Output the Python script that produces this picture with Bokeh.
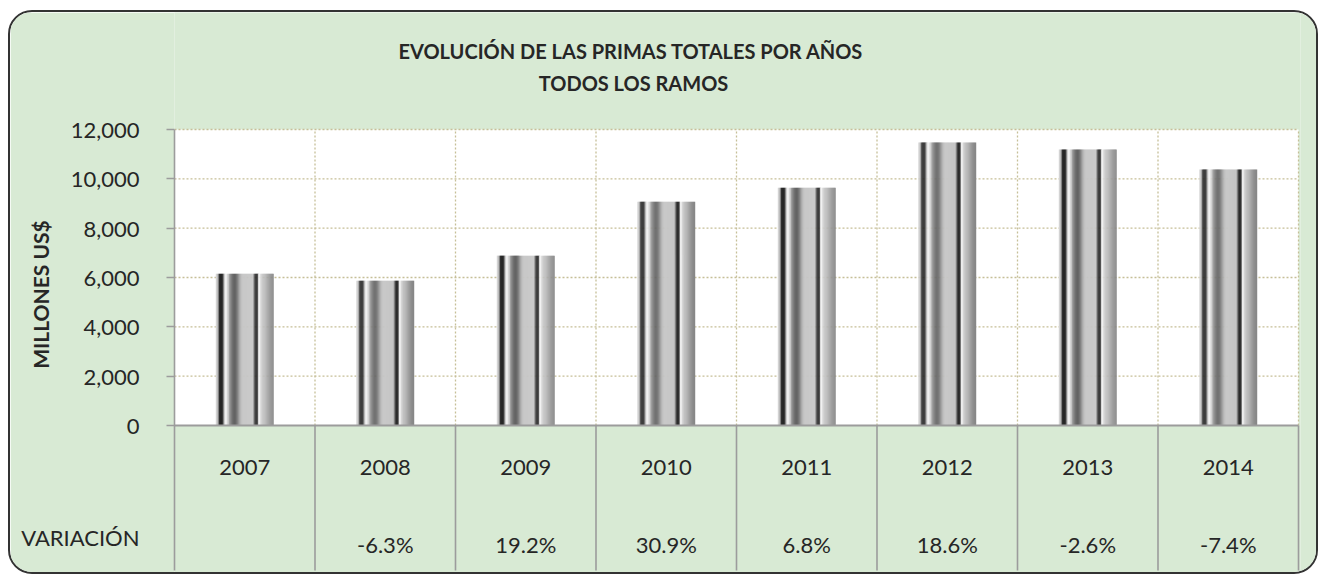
import math
from bokeh.plotting import figure
from bokeh.models import Range1d, FixedTicker, NumeralTickFormatter
from bokeh.core.properties import value
from bokeh.embed import file_html
from bokeh.resources import INLINE

# ---------------- data ----------------
years = ["2007", "2008", "2009", "2010", "2011", "2012", "2013", "2014"]
primas = [6154, 5870, 6885, 9075, 9643, 11469, 11185, 10374]
variacion = ["", "-6.3%", "19.2%", "30.9%", "6.8%", "18.6%", "-2.6%", "-7.4%"]
y_ticks = [0, 2000, 4000, 6000, 8000, 10000, 12000]
title_lines = ["EVOLUCIÓN DE LAS PRIMAS TOTALES  POR AÑOS", "TODOS LOS RAMOS"]
y_label = "MILLONES US$"
row_label = "VARIACIÓN"

# ---------------- style ----------------
GREEN = "#D8EAD4"
TEXT = "#262626"
AXIS = "#9C9C9C"
GRID = "#C6BF98"
FONT = "Lato"
# grey levels across one bar (left -> right), imitating the metallic fill
stripe_levels = [215, 200, 150, 50, 40, 38, 45, 120, 200, 240, 238, 215, 200, 160,
                 140, 125, 112, 104, 100, 104, 115, 130, 150, 168, 182, 192, 197,
                 198, 198, 198, 198, 198, 198, 198, 198, 198, 198, 150, 80, 45, 40,
                 70, 235, 240, 215, 205, 195, 190, 185, 178, 170, 162, 155, 148, 142,
                 138, 135]

# ---------------- layout (page pixels) ----------------
W, H = 1310, 564
ORIGIN_X, ORIGIN_Y = 10, 12
FRAME_L, FRAME_R = 174, 1300
FRAME_T, FRAME_B = ORIGIN_Y, ORIGIN_Y + H
ZERO_Y, TOP_Y = 425, 129
TABLE_B = 570
ROW_Y = 537
YMAX = y_ticks[-1]
n = len(years)
cat_px = (1298 - 174) / n
k = (ZERO_Y - TOP_Y) / YMAX


def dx(px):
    return (px - FRAME_L) / cat_px


def dy(py):
    return (ZERO_Y - py) / k


p = figure(width=W, height=H, output_backend="svg", toolbar_location=None,
           x_range=Range1d(0, dx(FRAME_R)), y_range=Range1d(dy(FRAME_B), dy(FRAME_T)),
           x_axis_type=None, min_border_left=FRAME_L - ORIGIN_X,
           min_border_right=ORIGIN_X + W - FRAME_R, min_border_top=0, min_border_bottom=0,
           margin=(10, 0, 0, 8),
           styles={"border": "2px solid #333333", "border-radius": "24px", "overflow": "hidden"})
p.background_fill_color = GREEN
p.border_fill_color = GREEN
p.outline_line_color = None
p.grid.visible = False

# white plotting area
p.quad(left=0, right=n, bottom=0, top=YMAX, fill_color="white", line_color=None, level="image")

# dotted grid
gy = [t for t in y_ticks if t > 0]
p.segment(x0=[0] * len(gy), x1=[n] * len(gy), y0=gy, y1=gy,
          line_color=GRID, line_width=1.3, line_dash="2 2")
bx = list(range(1, n + 1))
p.segment(x0=bx, x1=bx, y0=[0] * n, y1=[YMAX] * n,
          line_color=GRID, line_width=1.3, line_dash="2 2")

# striped bars
bar_w = 0.41
ns = len(stripe_levels)
sw = bar_w / ns
xs, tops, cols = [], [], []
for i, v in enumerate(primas):
    for j, g in enumerate(stripe_levels):
        xs.append(i + 0.5 - bar_w / 2 + (j + 0.5) * sw)
        tops.append(v)
        cols.append("#%02x%02x%02x" % (g, g, g))
p.vbar(x=xs, top=tops, bottom=0, width=sw * 1.35, fill_color=cols, line_color=None)

# baseline and table dividers
p.segment(x0=[0], x1=[n], y0=[0], y1=[0], line_color=AXIS, line_width=2.2)
p.segment(x0=bx, x1=bx, y0=[0] * n, y1=[dy(TABLE_B)] * n, line_color=AXIS, line_width=1.6)

# y axis (also carries the row caption of the table)
row_tick = dy(ROW_Y)
ya = p.yaxis[0]
ya.ticker = FixedTicker(ticks=y_ticks + [row_tick], minor_ticks=y_ticks)
ya.formatter = NumeralTickFormatter(format="0,0")
ya.major_label_overrides = {row_tick: row_label}
ya.bounds = (dy(TABLE_B), YMAX)
ya.axis_line_color = AXIS
ya.axis_line_width = 1.6
ya.major_tick_out = 0
ya.major_tick_in = 0
ya.major_tick_line_color = None
ya.minor_tick_line_color = AXIS
ya.minor_tick_line_width = 1.4
ya.minor_tick_out = 8
ya.minor_tick_in = 0
ya.major_label_text_font = FONT
ya.major_label_text_font_size = "22px"
ya.major_label_text_color = TEXT
ya.major_label_standoff = 27
ya.axis_label = y_label
ya.axis_label_text_font = FONT
ya.axis_label_text_font_style = "bold"
ya.axis_label_text_font_size = "21px"
ya.axis_label_text_color = TEXT
ya.axis_label_standoff = -35

# title
p.text(x=[dx(633)] * 2, y=[dy(50), dy(82)], text=title_lines, text_align="center",
       text_baseline="middle", text_font=value(FONT), text_font_style="bold",
       text_font_size="20px", text_color=TEXT)

# table texts
cx = [i + 0.5 for i in range(n)]
p.text(x=cx, y=[dy(467)] * n, text=years, text_align="center", text_baseline="middle",
       text_font=value(FONT), text_font_size="22px", text_color=TEXT)
p.text(x=cx, y=[dy(544)] * n, text=variacion, text_align="center", text_baseline="middle",
       text_font=value(FONT), text_font_size="22px", text_color=TEXT)

open("out.html", "w").write(file_html(p, INLINE))
